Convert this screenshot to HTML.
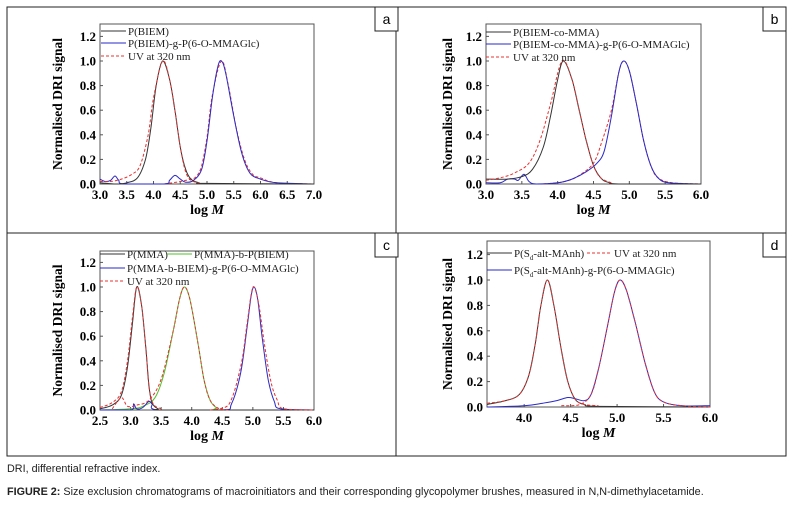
<!DOCTYPE html>
<html><head><meta charset="utf-8"><style>
body{margin:0;background:#fff;width:794px;height:511px;overflow:hidden;font-family:"Liberation Sans",sans-serif}
svg{position:absolute;left:0;top:0}
.cap{position:absolute;left:7px;font-size:10.8px;color:#222;white-space:nowrap}
</style></head><body>
<svg id="fig" width="794" height="511"></svg>
<div class="cap" style="top:463px">DRI, differential refractive index.</div>
<div class="cap" style="top:486px"><b>FIGURE 2:</b> Size exclusion chromatograms of macroinitiators and their corresponding glycopolymer brushes, measured in N,N-dimethylacetamide.</div>
<script>
// Panel a data
const aBlack=[[3.0,0.01],[3.3,0.0],[3.5,0.01],[3.7,0.05],[3.85,0.2],[3.95,0.45],[4.05,0.8],[4.17,1.0],[4.3,0.85],[4.4,0.6],[4.5,0.3],[4.6,0.12],[4.7,0.04],[4.85,0.01],[5.0,0.005],[7.0,0]];
const aBlue=[[3.0,0.04],[3.1,0.02],[3.2,0.03],[3.28,0.065],[3.35,0.03],[3.45,0.0],[4.2,0.0],[4.3,0.03],[4.4,0.07],[4.5,0.04],[4.6,0.015],[4.75,0.03],[4.9,0.12],[5.0,0.35],[5.1,0.7],[5.2,0.95],[5.27,1.0],[5.35,0.9],[5.5,0.55],[5.65,0.25],[5.8,0.09],[6.0,0.04],[6.3,0.01],[7.0,0]];
const aRed1=[[3.0,0.02],[3.2,0.02],[3.4,0.04],[3.6,0.08],[3.75,0.15],[3.9,0.4],[4.0,0.7],[4.17,1.0],[4.3,0.85],[4.4,0.6],[4.5,0.3],[4.6,0.1],[4.7,0.03],[4.85,0.01]];
const aRed2=[[4.2,0.0],[4.5,0.02],[4.7,0.04],[4.8,0.06],[4.9,0.15],[5.0,0.38],[5.1,0.72],[5.27,1.0],[5.4,0.8],[5.55,0.45],[5.7,0.2],[5.85,0.08],[6.0,0.05],[6.3,0.01],[7.0,0]];
// Panel b data
const bBlack=[[3.0,0.04],[3.3,0.04],[3.5,0.06],[3.65,0.12],[3.8,0.3],[3.9,0.55],[4.0,0.85],[4.08,1.0],[4.2,0.85],[4.3,0.6],[4.4,0.35],[4.5,0.15],[4.6,0.05],[4.7,0.015],[4.9,0],[6.0,0]];
const bBlue=[[3.0,0.01],[3.2,0.01],[3.3,0.04],[3.4,0.04],[3.45,0.03],[3.53,0.08],[3.6,0.02],[3.7,0],[4.0,0.01],[4.2,0.04],[4.4,0.1],[4.55,0.17],[4.65,0.27],[4.75,0.55],[4.85,0.9],[4.92,1.0],[5.0,0.92],[5.1,0.65],[5.2,0.35],[5.3,0.15],[5.4,0.05],[5.55,0.01],[6.0,0]];
const bRed1=[[3.0,0.03],[3.2,0.05],[3.4,0.09],[3.6,0.17],[3.75,0.35],[3.9,0.65],[4.06,1.0],[4.2,0.85],[4.3,0.6],[4.4,0.35],[4.5,0.15],[4.6,0.05],[4.75,0.01]];
const bRed2=[[3.8,0.0],[4.1,0.02],[4.3,0.07],[4.5,0.17],[4.62,0.35],[4.75,0.6],[4.85,0.9],[4.92,1.0],[5.0,0.92],[5.1,0.65],[5.2,0.35],[5.3,0.15],[5.4,0.05],[5.6,0.01],[6.0,0]];
// Panel c data
const cBlack=[[2.5,0.01],[2.7,0.04],[2.85,0.12],[2.95,0.35],[3.03,0.7],[3.1,1.0],[3.18,0.85],[3.25,0.5],[3.3,0.2],[3.35,0.06],[3.45,0.01],[3.6,0],[6.0,0]];
const cGreen=[[2.5,0],[3.0,0.01],[3.2,0.03],[3.4,0.1],[3.55,0.3],[3.7,0.65],[3.8,0.9],[3.88,1.0],[3.97,0.9],[4.1,0.55],[4.2,0.25],[4.3,0.08],[4.4,0.02],[4.5,0],[6.0,0]];
const cBlue=[[2.5,0],[3.0,0],[3.05,0.05],[3.1,0.01],[3.2,0.02],[3.3,0.07],[3.35,0.05],[3.45,0],[4.5,0],[4.65,0.05],[4.8,0.3],[4.9,0.65],[4.97,0.92],[5.02,1.0],[5.08,0.9],[5.15,0.6],[5.25,0.25],[5.35,0.07],[5.45,0.01],[6.0,0]];
const cRed1=[[2.5,0.02],[2.7,0.06],[2.85,0.15],[2.95,0.4],[3.03,0.75],[3.1,1.0],[3.18,0.85],[3.25,0.5],[3.3,0.2],[3.37,0.05],[3.5,0.01]];
const cRed2=[[2.7,0.01],[2.85,0.1],[2.95,0.03],[3.1,0.04],[3.3,0.08],[3.5,0.25],[3.7,0.65],[3.8,0.9],[3.88,1.0],[3.97,0.9],[4.1,0.55],[4.2,0.25],[4.3,0.08],[4.45,0.01],[4.6,0]];
const cRed3=[[4.3,0],[4.6,0.04],[4.8,0.35],[4.9,0.68],[4.97,0.93],[5.02,1.0],[5.1,0.85],[5.2,0.5],[5.3,0.22],[5.4,0.08],[5.5,0.01],[6.0,0]];
// Panel d data
const dBlack=[[3.6,0.02],[3.8,0.05],[3.95,0.1],[4.05,0.25],[4.12,0.5],[4.18,0.8],[4.25,1.0],[4.32,0.8],[4.4,0.45],[4.47,0.2],[4.55,0.06],[4.65,0.02],[4.8,0.005],[6.0,0]];
const dBlue=[[3.6,0],[4.0,0.01],[4.2,0.03],[4.35,0.05],[4.47,0.075],[4.55,0.065],[4.65,0.05],[4.72,0.1],[4.8,0.3],[4.9,0.65],[4.97,0.9],[5.03,1.0],[5.1,0.92],[5.2,0.65],[5.3,0.35],[5.4,0.12],[5.5,0.04],[5.7,0.01],[6.0,0.01]];
const dRed1=[[3.6,0.03],[3.8,0.05],[3.95,0.1],[4.05,0.25],[4.12,0.5],[4.18,0.8],[4.25,1.0],[4.32,0.8],[4.4,0.45],[4.47,0.2],[4.55,0.06],[4.65,0.02],[4.8,0.01]];
const dRed2=[[4.4,0.01],[4.6,0.02],[4.72,0.1],[4.8,0.3],[4.9,0.65],[4.97,0.9],[5.03,1.0],[5.1,0.92],[5.2,0.65],[5.3,0.35],[5.4,0.12],[5.5,0.04],[5.7,0.01],[6.0,0]];
const yTicks=[0,0.2,0.4,0.6,0.8,1.0,1.2];
const aXTicks=[3,3.5,4,4.5,5,5.5,6,6.5,7];
const bXTicks=[3,3.5,4,4.5,5,5.5,6];
const cXTicks=[2.5,3,3.5,4,4.5,5,5.5,6];
const dXTicks=[4,4.5,5,5.5,6];

const NS="http://www.w3.org/2000/svg";
const svg=document.getElementById('fig');
function mk(tag,attrs,parent){const e=document.createElementNS(NS,tag);for(const k in attrs)e.setAttribute(k,attrs[k]);(parent||svg).appendChild(e);return e;}
function txt(s,attrs,parent){const e=mk('text',attrs,parent);e.textContent=s;return e;}
function smooth(P,ymax){
  let d='M'+P[0][0].toFixed(1)+','+P[0][1].toFixed(1);
  for(let i=0;i<P.length-1;i++){
    const p0=P[i-1]||P[i],p1=P[i],p2=P[i+1],p3=P[i+2]||P[i+1];
    const t=1/6;
    let c1x=p1[0]+(p2[0]-p0[0])*t,c1y=p1[1]+(p2[1]-p0[1])*t;
    let c2x=p2[0]-(p3[0]-p1[0])*t,c2y=p2[1]-(p3[1]-p1[1])*t;
    c1y=Math.min(c1y,ymax);c2y=Math.min(c2y,ymax);
    d+=' C'+c1x.toFixed(1)+','+c1y.toFixed(1)+' '+c2x.toFixed(1)+','+c2y.toFixed(1)+' '+p2[0].toFixed(1)+','+p2[1].toFixed(1);
  }
  return d;
}

const fr=mk('g',{});


mk('rect',{x:7,y:7,width:779,height:449,fill:'none',stroke:'#222','stroke-width':1},fr);
mk('line',{x1:396,y1:7,x2:396,y2:456,stroke:'#222'},fr);
mk('line',{x1:7,y1:233,x2:786,y2:233,stroke:'#222'},fr);

function panel(p){
  const g=mk('g',{});
  
  
  const X=v=>p.x0+(v-p.xmin)/(p.xmax-p.xmin)*(p.x1-p.x0);
  const Y=v=>p.y0-v*(p.y0-p.y1);
  const sx=(p.x1-p.x0),sy=(p.y0-p.ytop);
  const lb=mk('rect',{x:p.lx,y:p.ly,width:23,height:24,fill:'#fff',stroke:'#222'},g);
  
  
  txt(p.id,{x:p.lx+11.5,y:p.ly+17,'text-anchor':'middle','font-size':14,'font-family':'Liberation Sans, sans-serif'},g);
  mk('rect',{x:p.x0,y:p.ytop,width:sx,height:sy,fill:'none',stroke:'#555','stroke-width':1},g);
  const yt=mk('g',{},g);
  
  
  yTicks.forEach(t=>{
    const yy=Y(t);
    mk('line',{x1:p.x0,y1:yy,x2:p.x0+3,y2:yy,stroke:'#555'},yt);
    txt(t.toFixed(1),{x:p.x0-4,y:yy+4.5,'text-anchor':'end','font-size':13,'font-weight':'bold','font-family':'Liberation Serif, serif'},yt);
  });
  const xt=mk('g',{},g);
  
  
  p.xt.forEach(t=>{
    const xx=X(t);
    mk('line',{x1:xx,y1:p.y0,x2:xx,y2:p.y0-3,stroke:'#555'},xt);
    txt(t.toFixed(1),{x:xx,y:p.y0+15,'text-anchor':'middle','font-size':13,'font-weight':'bold','font-family':'Liberation Serif, serif'},xt);
  });
  const xl=txt('log ',{x:(p.x0+p.x1)/2,y:p.y0+30,'text-anchor':'middle','font-size':14,'font-weight':'bold','font-family':'Liberation Serif, serif'},g);
  
  
  const ts=document.createElementNS(NS,'tspan');ts.setAttribute('font-style','italic');ts.textContent='M';xl.appendChild(ts);
  const cy=(p.y0+p.ytop)/2;
  const yl=txt('Normalised DRI signal',{x:p.ytx,y:cy,'text-anchor':'middle','font-size':13.5,'font-weight':'bold','font-family':'Liberation Serif, serif',transform:'rotate(-90 '+p.ytx+' '+cy+')'},g);
  
  
  p.series.forEach(s=>{
    const P=s.d.map(q=>[X(q[0]),Y(q[1])]);
    const l=mk('path',{d:smooth(P,p.y0),fill:'none',stroke:s.c,'stroke-width':1,'stroke-dasharray':s.dash||'none','stroke-linejoin':'round'},g);
    
    
  });
  p.leg.forEach(e=>{
    const lg=mk('g',{},g);
    
    
    mk('line',{x1:e.x,y1:e.y,x2:e.x+25,y2:e.y,stroke:e.c,'stroke-dasharray':e.dash||'none'},lg);
    const t=txt('',{x:e.x+27,y:e.y+4,'font-size':11,'font-family':'Liberation Serif, serif',fill:'#222'},lg);
    t.innerHTML=e.t;
  });
}
const K='#333',B='#2929c8',R='#e83030',G='#4fc02a',D='3,2';
panel({id:'a',x0:100,x1:314,y0:184,y1:61,ytop:24,xmin:3,xmax:7,xt:aXTicks,ytx:62,lx:375,ly:7,
 series:[{d:aRed2,c:R,dash:D,n:'uv-peak-2'},{d:aBlue,c:B,n:'graft-series'},{d:aBlack,c:K,n:'biem-series'},{d:aRed1,c:R,dash:D,n:'uv-peak-1'}],
 leg:[{x:101,y:31,c:K,t:'P(BIEM)'},{x:101,y:43,c:B,t:'P(BIEM)-g-P(6-O-MMAGlc)'},{x:101,y:56,c:R,dash:D,t:'UV at 320 nm'}]});
panel({id:'b',x0:486,x1:701,y0:184,y1:61,ytop:24,xmin:3,xmax:6,xt:bXTicks,ytx:452,lx:763,ly:7,
 series:[{d:bRed2,c:R,dash:D,n:'uv-peak-2'},{d:bBlue,c:B,n:'graft-series'},{d:bBlack,c:K,n:'copolymer-series'},{d:bRed1,c:R,dash:D,n:'uv-peak-1'}],
 leg:[{x:486,y:32,c:K,t:'P(BIEM-co-MMA)'},{x:486,y:44,c:B,t:'P(BIEM-co-MMA)-g-P(6-O-MMAGlc)'},{x:486,y:57,c:R,dash:D,t:'UV at 320 nm'}]});
panel({id:'c',x0:100,x1:314,y0:410,y1:287,ytop:251,xmin:2.5,xmax:6,xt:cXTicks,ytx:62,lx:375,ly:233,
 series:[{d:cGreen,c:G,n:'block-series'},{d:cBlue,c:B,n:'graft-series'},{d:cBlack,c:K,n:'pmma-series'},{d:cRed1,c:R,dash:D,n:'uv-peak-1'},{d:cRed2,c:R,dash:D,n:'uv-peak-2'},{d:cRed3,c:R,dash:D,n:'uv-peak-3'}],
 leg:[{x:100,y:254,c:K,t:'P(MMA)'},{x:167,y:254,c:G,t:'P(MMA)-b-P(BIEM)'},{x:100,y:268,c:B,t:'P(MMA-b-BIEM)-g-P(6-O-MMAGlc)'},{x:100,y:281,c:R,dash:D,t:'UV at 320 nm'}]});
panel({id:'d',x0:487,x1:710,y0:407,y1:280,ytop:241,xmin:3.6,xmax:6,xt:dXTicks,ytx:452,lx:763,ly:233,
 series:[{d:dBlue,c:B,n:'graft-series'},{d:dBlack,c:K,n:'alt-copolymer-series'},{d:dRed1,c:R,dash:D,n:'uv-peak-1'},{d:dRed2,c:R,dash:D,n:'uv-peak-2'}],
 leg:[{x:487,y:253,c:K,t:'P(S<tspan font-size="7" dy="3">d</tspan><tspan dy="-3">-alt-MAnh)</tspan>'},{x:587,y:253,c:R,dash:D,t:'UV at 320 nm'},{x:487,y:270,c:B,t:'P(S<tspan font-size="7" dy="3">d</tspan><tspan dy="-3">-alt-MAnh)-g-P(6-O-MMAGlc)</tspan>'}]});
</script>
</body></html>
